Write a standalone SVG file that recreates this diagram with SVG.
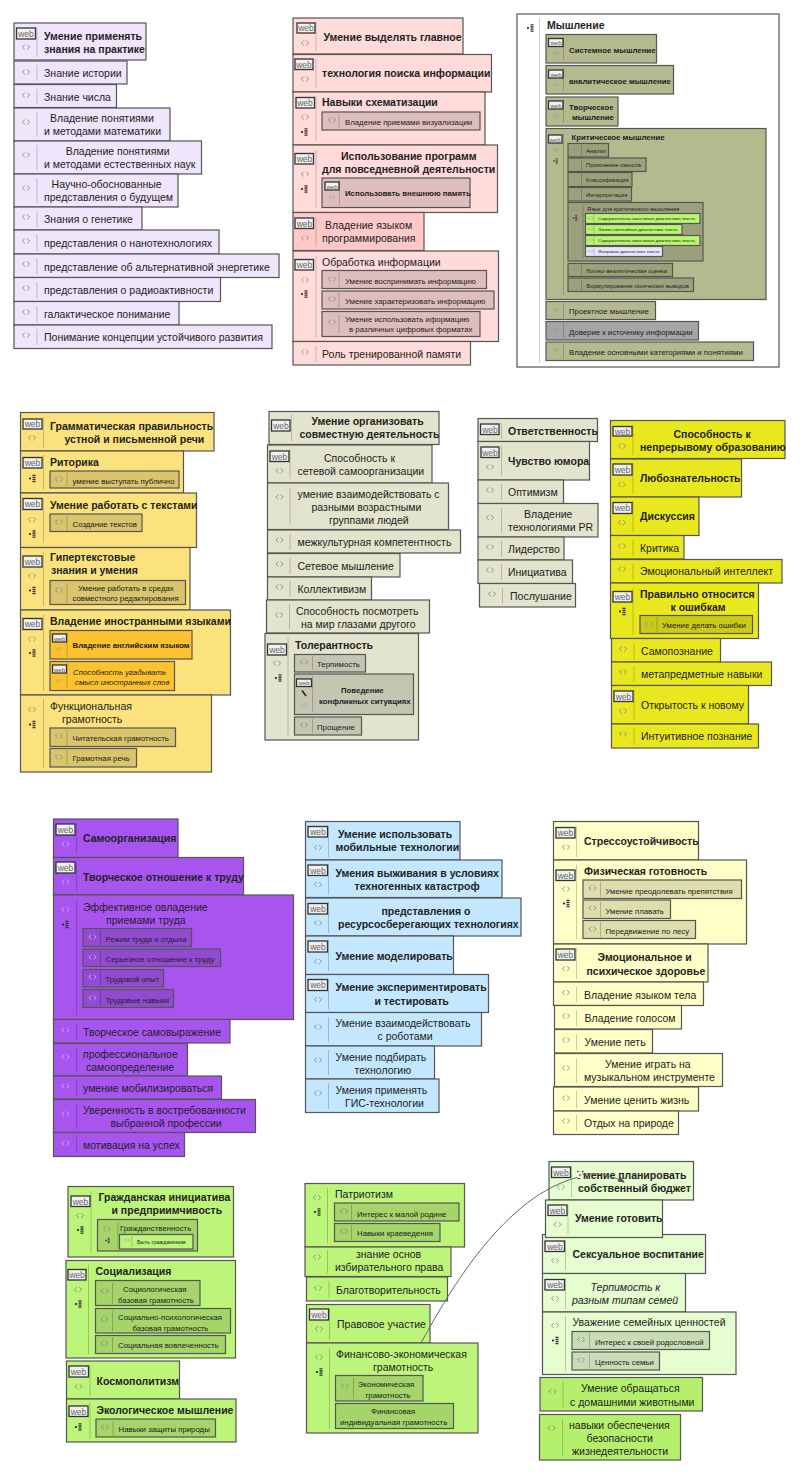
<svg xmlns="http://www.w3.org/2000/svg" width="800" height="1475" viewBox="0 0 800 1475">
<style>
text{font-family:"Liberation Sans",Arial,sans-serif;fill:#222}
rect{stroke:#555;stroke-width:1.2}
.t{font-size:10.5px}.b{font-size:10.5px;font-weight:700}
.m{font-size:7.8px}.mb{font-size:7.8px;font-weight:700}
.o{font-size:5.8px}.g{font-size:4.4px}.i{font-style:italic}.x{font-size:5.5px}
.w{font-size:8.5px;fill:#666;text-anchor:middle}
.ws{font-size:6px;fill:#555;text-anchor:middle}
.wb{fill:#f0f0f0;stroke:#333;stroke-width:1.3}
.s{stroke:#000;stroke-opacity:.2;fill:none}
.c{fill:#000;fill-opacity:.13}
use{stroke:#888}
.pu~use,.pu~g>use{stroke:#cfa6f8}
.lv{fill:#f0e6fb}.pk{fill:#ffdbd9}.pk2{fill:#ffc9c9}.ol{fill:#b5b98e}.gr{fill:#a5a5a5}.ye{fill:#fbe27d}
.or{fill:#fdc230}.be{fill:#e3e4cd}.y2{fill:#e9e81e}.pu{fill:#a855f0}.bl{fill:#c3e7ff}.ly{fill:#feffc6}
.gn{fill:#bdf47a}.lg{fill:#e6fdd0}.g2{fill:#b9f56e}.lb{fill:#e6e6ff}.wh{fill:#fff}.g3{fill:#b5f06c}
.ln{fill:none;stroke:#666;stroke-width:1}
</style>
<defs>
<path id="a" d="M-1.2-2.4L-3.6 0L-1.2 2.4M1.2-2.4L3.6 0L1.2 2.4" fill="none" stroke-width=".9"/>
<path id="e" d="M-.8-1.5L-2.2 0L-.8 1.5M.8-1.5L2.2 0L.8 1.5" fill="none" stroke-width=".6"/>
<g id="l"><circle cx="-3" cy="0" r="1.1" fill="#222" stroke="none"/><path d="M-.5-3.2h3M-.5-1h3M-.5 1.2h3M-.5 3.2h3" stroke="#333" stroke-width="1.3"/></g>
<g id="k"><circle cx="-2" cy="0" r=".8" fill="#222" stroke="none"/><path d="M-.3-2.2h2M-.3-.7h2M-.3.8h2M-.3 2.2h2" stroke="#333" stroke-width=".9"/></g>
<marker id="h" markerWidth="8" markerHeight="8" refX="6" refY="3" orient="auto"><path d="M0 0L7 3L0 6Z" fill="#555"/></marker>
</defs>

<g id="n1"><rect class="lv" x="14" y="23" width="132" height="37"/><rect class="wb" x="16.500" y="28" width="19" height="11"/><text class="w" x="26" y="36.500">web</text><use href="#a" x="26" y="47"/><path class="s" d="M37 27V57"/><text class="b" x="44" y="39.500">Умение применять</text><text class="b" x="44" y="52.500">знания на практике</text></g>
<g id="n2"><rect class="lv" x="14" y="61" width="113" height="23"/><use href="#a" x="26" y="72"/><path class="s" d="M37 65V81"/><text class="t" x="44" y="77">Знание истории</text></g>
<g id="n3"><rect class="lv" x="14" y="84.500" width="102.500" height="23"/><use href="#a" x="26" y="95"/><path class="s" d="M37 89V104"/><text class="t" x="44" y="100.500">Знание числа</text></g>
<g id="n4"><rect class="lv" x="14" y="108" width="156" height="33"/><use href="#a" x="26" y="122"/><path class="s" d="M37 112V137"/><text class="t" x="50" y="122">Владение понятиями</text><text class="t" x="44" y="135">и методами математики</text></g>
<g id="n5"><rect class="lv" x="14" y="141" width="187.500" height="33"/><use href="#a" x="26" y="155"/><path class="s" d="M37 145V170"/><text class="t" x="65.700" y="155">Владение понятиями</text><text class="t" x="44" y="168">и методами естественных наук</text></g>
<g id="n6"><rect class="lv" x="14" y="174" width="164" height="33"/><use href="#a" x="26" y="188"/><path class="s" d="M37 178V203"/><text class="t" x="51.600" y="188">Научно-обоснованные</text><text class="t" x="44" y="201">представления о будущем</text></g>
<g id="n7"><rect class="lv" x="14" y="207" width="128" height="23"/><use href="#a" x="26" y="217"/><path class="s" d="M37 211V227"/><text class="t" x="44" y="223">Знания о генетике</text></g>
<g id="n8"><rect class="lv" x="14" y="230" width="205" height="24"/><use href="#a" x="26" y="241"/><path class="s" d="M37 234V251"/><text class="t" x="44" y="247">представления о нанотехнологиях</text></g>
<g id="n9"><rect class="lv" x="14" y="254" width="265" height="23.500"/><use href="#a" x="26" y="264"/><path class="s" d="M37 258V274"/><text class="t" x="44" y="270.500">представление об альтернативной энергетике</text></g>
<g id="n10"><rect class="lv" x="14" y="277.500" width="206.500" height="24"/><use href="#a" x="26" y="288"/><path class="s" d="M37 282V298"/><text class="t" x="44" y="294">представления о радиоактивности</text></g>
<g id="n11"><rect class="lv" x="14" y="301.500" width="165" height="23.500"/><use href="#a" x="26" y="312"/><path class="s" d="M37 306V322"/><text class="t" x="44" y="317.500">галактическое понимание</text></g>
<g id="n12"><rect class="lv" x="14" y="325" width="258" height="23.500"/><use href="#a" x="26" y="335"/><path class="s" d="M37 329V345"/><text class="t" x="44" y="341">Понимание концепции устойчивого развития</text></g>

<g id="p1"><rect class="pk" x="293" y="18" width="170" height="36"/><rect class="wb" x="297" y="23" width="18" height="10"/><text class="w" x="306" y="31">web</text><use href="#a" x="305" y="43"/><path class="s" d="M316 22V51"/><text class="b" x="323.500" y="41">Умение выделять главное</text></g>
<g id="p2"><rect class="pk" x="293" y="54.500" width="198.500" height="37.500"/><rect class="wb" x="295" y="59" width="18" height="10.500"/><text class="w" x="304" y="67.500">web</text><use href="#a" x="305" y="79"/><path class="s" d="M316 59V88"/><text class="b" x="322" y="77">технология поиска информации</text></g>
<g id="p3"><rect class="pk" x="293" y="92" width="192" height="53"/><rect class="wb" x="296" y="97.500" width="18.500" height="10.500"/><text class="w" x="305" y="106">web</text><use href="#a" x="305" y="117"/><use href="#l" x="305" y="132"/><path class="s" d="M316 96V141"/><text class="b" x="322" y="106">Навыки схематизации</text>
<g id="p3a"><rect class="c" x="322" y="112" width="158" height="18"/><use href="#a" x="332" y="120"/><path class="s" d="M339 114V128"/><text class="m" x="345" y="124.500">Владение приемами визуализации</text></g></g>
<g id="p4"><rect class="pk" x="293" y="145" width="204.500" height="67.500"/><rect class="wb" x="295" y="153.500" width="18.500" height="10.500"/><text class="w" x="304.500" y="162">web</text><use href="#a" x="305" y="174"/><use href="#l" x="305" y="189"/><path class="s" d="M316 150V208"/><text class="b" x="341" y="160">Использование программ</text><text class="b" x="322" y="173">для повседневной деятельности</text>
<g id="p4a"><rect class="c" x="322" y="178" width="148" height="29.500"/><rect class="wb" x="325" y="182" width="14" height="8"/><text class="ws" x="332" y="188.500">web</text><use href="#e" x="332" y="197"/><path class="s" d="M339.500 180V205"/><text class="mb" x="345" y="196">Использовать внешнюю память</text></g></g>
<g id="p5"><rect class="pk2" x="293" y="212.500" width="131" height="38"/><rect class="wb" x="295" y="218" width="18.500" height="10.500"/><text class="w" x="304.500" y="226.500">web</text><use href="#a" x="305" y="238"/><path class="s" d="M316 217V247"/><text class="t" x="325" y="229">Владение языком</text><text class="t" x="322" y="242">программирования</text></g>
<g id="p6"><rect class="pk" x="293" y="251" width="205.500" height="90.500"/><rect class="wb" x="295" y="259.500" width="18.500" height="10.500"/><text class="w" x="304.500" y="268">web</text><use href="#a" x="305" y="280"/><use href="#l" x="305" y="294"/><path class="s" d="M316 256V338"/><text class="t" x="322" y="266">Обработка информации</text>
<g id="p6a"><rect class="c" x="322" y="270.500" width="164.500" height="18"/><use href="#a" x="332" y="279"/><path class="s" d="M339 272V287"/><text class="m" x="345" y="284">Умение воспринимать информацию</text></g>
<g id="p6b"><rect class="c" x="322" y="291" width="172" height="18"/><use href="#a" x="332" y="299"/><path class="s" d="M339 293V307"/><text class="m" x="345" y="304">Умение характеризовать информацию</text></g>
<g id="p6c"><rect class="c" x="322" y="311.500" width="158" height="25"/><use href="#a" x="332" y="322"/><path class="s" d="M339 314V334"/><text class="m" x="345" y="322">Умение использовать иформацию</text><text class="m" x="349" y="332">в различных цифровых форматах</text></g></g>
<g id="p7"><rect class="pk" x="293" y="341.500" width="177.500" height="23.500"/><use href="#a" x="305" y="352"/><path class="s" d="M316 346V362"/><text class="t" x="322" y="358">Роль тренированной памяти</text></g>

<g id="m0"><rect class="wh" x="517" y="14" width="262" height="353"/><use href="#l" x="531" y="28"/><path class="s" d="M539.500 18V363"/><text class="b" x="547" y="29">Мышление</text>
<g id="m1"><rect class="ol" x="546" y="34.500" width="110.500" height="28.500"/><rect class="wb" x="548.500" y="38.500" width="14.500" height="8"/><text class="ws" x="556" y="45">web</text><use href="#e" x="556" y="53"/><path class="s" d="M563.500 37V60"/><text class="mb" x="569" y="52.500">Системное мышление</text></g>
<g id="m2"><rect class="ol" x="546" y="65.500" width="127.500" height="28.500"/><rect class="wb" x="548.500" y="70" width="14.500" height="8"/><text class="ws" x="556" y="76.500">web</text><use href="#e" x="556" y="84.500"/><path class="s" d="M563.500 68V91"/><text class="mb" x="569" y="84">аналитическое мышление</text></g>
<g id="m3"><rect class="ol" x="546" y="97" width="72" height="29"/><rect class="wb" x="548.500" y="101" width="14.500" height="8"/><text class="ws" x="556" y="107.500">web</text><use href="#e" x="556" y="116"/><path class="s" d="M563.500 99V123"/><text class="mb" x="569" y="110">Творческое</text><text class="mb" x="572" y="120">мышление</text></g>
<g id="m4"><rect class="ol" x="546" y="128.500" width="220" height="171"/><rect class="wb" x="548.500" y="135" width="13.500" height="8"/><text class="ws" x="555" y="141.500">web</text><use href="#e" x="556" y="150"/><use href="#k" x="556" y="161"/><path class="s" d="M563.500 133V295"/><text class="mb" x="571.500" y="139.500">Критическое мышление</text>
<g id="m4a"><rect class="c" x="568" y="143.500" width="40.500" height="13.500"/><use href="#e" x="575.500" y="149"/><path class="s" d="M581.500 145V155"/><text class="o" x="586" y="152.500">Анализ</text></g>
<g id="m4b"><rect class="c" x="568" y="158" width="78" height="13.500"/><use href="#e" x="575.500" y="164"/><path class="s" d="M581.500 160V170"/><text class="o" x="586" y="167">Прояснение смысла</text></g>
<g id="m4c"><rect class="c" x="568" y="172.500" width="64" height="14"/><use href="#e" x="575.500" y="178"/><path class="s" d="M581.500 174V185"/><text class="o" x="586" y="182">Классификация</text></g>
<g id="m4d"><rect class="c" x="568" y="187.500" width="63.500" height="13.500"/><use href="#e" x="575.500" y="193"/><path class="s" d="M581.500 189V200"/><text class="o" x="586" y="196.500">Интерпретация</text></g>
<g id="m4e"><rect class="c" x="568" y="202.500" width="135" height="58.500"/><use href="#e" x="575.500" y="210"/><use href="#k" x="575.500" y="218"/><path class="s" d="M583 205V258"/><text class="o" x="587" y="211">Язык для критического мышления</text>
<g id="m4e1"><rect class="g2" x="585.500" y="213.500" width="114.500" height="10"/><use href="#e" x="590.500" y="218"/><path class="s" d="M594 215V222"/><text class="g" x="598" y="220">Содержательно-смысловая диагностика текста</text></g>
<g id="m4e2"><rect class="g2" x="585.500" y="224.500" width="96.500" height="10"/><use href="#e" x="590.500" y="229"/><path class="s" d="M594 226V233"/><text class="g" x="598" y="231">Логико-понятийная диагностика текста</text></g>
<g id="m4e3"><rect class="g2" x="585.500" y="235.500" width="114.500" height="10"/><use href="#e" x="590.500" y="240"/><path class="s" d="M594 237V244"/><text class="g" x="598" y="242">Содержательно-смысловая диагностика текста</text></g>
<g id="m4e4"><rect class="lb" x="585.500" y="246.500" width="77" height="10"/><use href="#e" x="590.500" y="251"/><path class="s" d="M594 248V255"/><text class="g" x="598" y="253">Жанровая диагностика текста</text></g></g>
<g id="m4f"><rect class="c" x="568" y="263.500" width="104.500" height="13"/><use href="#e" x="575.500" y="269"/><path class="s" d="M581.500 265V275"/><text class="o" x="586" y="272.500">Логико-аналитическая оценка</text></g>
<g id="m4g"><rect class="c" x="568" y="278" width="125.500" height="13.500"/><use href="#e" x="575.500" y="284"/><path class="s" d="M581.500 280V290"/><text class="o" x="586" y="287.500">Формулирование логических выводов</text></g></g>
<g id="m5"><rect class="ol" x="546" y="301.500" width="109.500" height="18"/><use href="#e" x="556" y="310"/><path class="s" d="M563.500 303V318"/><text class="m" x="569" y="314">Проектное мышление</text></g>
<g id="m6"><rect class="gr" x="546" y="321.500" width="152.500" height="18.500"/><use href="#e" x="556" y="330"/><path class="s" d="M563.500 323V338"/><text class="m" x="569" y="334.500">Доверие к источнику информации</text></g>
<g id="m7"><rect class="ol" x="546" y="342" width="207.500" height="18.500"/><use href="#e" x="556" y="350"/><path class="s" d="M563.500 344V359"/><text class="m" x="569" y="355">Владение основными категориями и понятиями</text></g></g>

<g id="y1"><rect class="ye" x="20.500" y="412.500" width="193.500" height="38.500"/><rect class="wb" x="23" y="419" width="19" height="10"/><text class="w" x="32.500" y="427">web</text><use href="#a" x="32" y="438"/><path class="s" d="M43.500 417V448"/><text class="b" x="50" y="430">Грамматическая правильность</text><text class="b" x="64.500" y="443">устной и письменной речи</text></g>
<g id="y2"><rect class="ye" x="20.500" y="451" width="163" height="42"/><rect class="wb" x="23" y="457.500" width="19" height="10.500"/><text class="w" x="32.500" y="466">web</text><use href="#l" x="33" y="478.500"/><path class="s" d="M43.500 455V490"/><text class="b" x="50" y="465.500">Риторика</text>
<g id="y2a"><rect class="c" x="50" y="471" width="129" height="17"/><use href="#a" x="59" y="479"/><path class="s" d="M67 473V486"/><text class="m" x="72.500" y="484">умение выступать публично</text></g></g>
<g id="y3"><rect class="ye" x="20.500" y="493" width="176" height="54.500"/><rect class="wb" x="23" y="498.500" width="19" height="11"/><text class="w" x="32.500" y="507">web</text><use href="#a" x="32" y="519.500"/><use href="#l" x="33" y="534"/><path class="s" d="M43.500 498V543"/><text class="b" x="50" y="509">Умение работать с текстами</text>
<g id="y3a"><rect class="c" x="50" y="514" width="92" height="17.500"/><use href="#a" x="59" y="522"/><path class="s" d="M67 516V530"/><text class="m" x="72.500" y="526.500">Создание текстов</text></g></g>
<g id="y4"><rect class="ye" x="20.500" y="547.500" width="169.500" height="62.500"/><rect class="wb" x="23" y="556" width="19" height="11"/><text class="w" x="32.500" y="564.500">web</text><use href="#a" x="32" y="576"/><use href="#l" x="33" y="590.500"/><path class="s" d="M43.500 552V606"/><text class="b" x="50" y="561">Гипертекстовые</text><text class="b" x="51" y="574">знания и умения</text>
<g id="y4a"><rect class="c" x="50" y="580.500" width="135.500" height="24"/><use href="#a" x="59" y="590"/><path class="s" d="M67 583V603"/><text class="m" x="78" y="591">Умение работать в средах</text><text class="m" x="72.500" y="601">совместного редактирования</text></g></g>
<g id="y5"><rect class="ye" x="20.500" y="610" width="210" height="85"/><rect class="wb" x="23" y="618.500" width="19" height="11"/><text class="w" x="32.500" y="627">web</text><use href="#a" x="32" y="639"/><use href="#l" x="33" y="653"/><path class="s" d="M43.500 615V691"/><text class="b" x="50" y="624.500">Владение иностранными языками</text>
<g id="y5a"><rect class="or" x="50" y="630.500" width="142" height="28.500"/><rect class="wb" x="52.500" y="634" width="14" height="8"/><text class="ws" x="59.500" y="640.500">web</text><use href="#e" x="59" y="649"/><path class="s" d="M67 632V657"/><text class="mb" x="72.500" y="648">Владение английским языком</text></g>
<g id="y5b"><rect class="or" x="50" y="661.500" width="124.500" height="29"/><rect class="wb" x="52.500" y="665" width="14" height="8"/><text class="ws" x="59.500" y="671.500">web</text><use href="#e" x="59" y="680.500"/><path class="s" d="M67 663V688"/><text class="m i" x="73" y="674.500">Способность угадывать</text><text class="m i" x="75" y="685">смысл иностранных слов</text></g></g>
<g id="y6"><rect class="ye" x="20.500" y="695" width="191" height="77"/><use href="#a" x="32" y="709.500"/><use href="#l" x="33" y="724.500"/><path class="s" d="M43.500 699V768"/><text class="t" x="50" y="710">Функциональная</text><text class="t" x="62" y="723">грамотность</text>
<g id="y6a"><rect class="c" x="50" y="728" width="125.500" height="18.500"/><use href="#a" x="59" y="736"/><path class="s" d="M67 730V745"/><text class="m" x="72.500" y="741">Читательская грамотность</text></g>
<g id="y6b"><rect class="c" x="50" y="748.500" width="86.500" height="18.500"/><use href="#a" x="59" y="757"/><path class="s" d="M67 750V765"/><text class="m" x="72.500" y="761">Грамотная речь</text></g></g>

<g id="b1"><rect class="be" x="269" y="411.500" width="170" height="33"/><rect class="wb" x="271.500" y="420" width="18.500" height="11"/><text class="w" x="281" y="428.500">web</text><path class="s" d="M291.500 415V441"/><text class="b" x="311.500" y="425">Умение организовать</text><text class="b" x="299.500" y="438">совместную деятельность</text></g>
<g id="b2"><rect class="be" x="267.500" y="445" width="164.500" height="38"/><rect class="wb" x="270" y="451" width="19" height="10.500"/><text class="w" x="279.500" y="459.500">web</text><use href="#a" x="279.500" y="470.500"/><path class="s" d="M290 449V479"/><text class="t" x="324" y="462">Способность к</text><text class="t" x="297.500" y="475">сетевой самоорганизации</text></g>
<g id="b3"><rect class="be" x="267.500" y="483" width="181" height="46.500"/><use href="#a" x="279.500" y="497"/><path class="s" d="M290 488V525"/><text class="t" x="297.500" y="498">умение взаимодействовать с</text><text class="t" x="311.500" y="511">разными возрастными</text><text class="t" x="329" y="524">группами людей</text></g>
<g id="b4"><rect class="be" x="267.500" y="530" width="193" height="23"/><use href="#a" x="279.500" y="540"/><path class="s" d="M290 534V550"/><text class="t" x="297.500" y="546">межкультурная компетентность</text></g>
<g id="b5"><rect class="be" x="267.500" y="553.500" width="132.500" height="23.500"/><use href="#a" x="279.500" y="564"/><path class="s" d="M290 558V574"/><text class="t" x="297.500" y="569.500">Сетевое мышление</text></g>
<g id="b6"><rect class="be" x="267.500" y="577" width="104" height="23"/><use href="#a" x="279.500" y="587"/><path class="s" d="M290 581V597"/><text class="t" x="297.500" y="593">Коллективизм</text></g>
<g id="b7"><rect class="be" x="266.500" y="600" width="163" height="33"/><use href="#a" x="279" y="615"/><path class="s" d="M289.500 604V629"/><text class="t" x="296" y="615">Способность посмотреть</text><text class="t" x="301" y="628">на мир глазами другого</text></g>
<g id="b8"><rect class="be" x="265" y="633.500" width="153.500" height="106.500"/><rect class="wb" x="267.500" y="644" width="19" height="11"/><text class="w" x="277" y="652.500">web</text><use href="#a" x="277" y="663"/><use href="#l" x="279" y="678"/><path class="s" d="M288 638V736"/><text class="b" x="295" y="648.500">Толерантность</text>
<g id="b8a"><rect class="c" x="294.500" y="654.500" width="71" height="17.500"/><use href="#a" x="304" y="662"/><path class="s" d="M312.500 656V670"/><text class="m" x="317" y="667">Терпимость</text></g>
<g id="b8b"><rect class="c" x="294.500" y="674" width="119" height="40.500"/><rect class="wb" x="296.500" y="679" width="15" height="7.500"/><text class="ws" x="304" y="685">web</text><path d="M302 690.500L306 696" stroke="#222" stroke-width="1.500"/><use href="#e" x="304" y="705"/><path class="s" d="M312.500 676V712"/><text class="mb" x="341" y="693">Поведение</text><text class="mb" x="319" y="703.500">конфликных ситуациях</text></g>
<g id="b8c"><rect class="c" x="294.500" y="717" width="67" height="18"/><use href="#a" x="304" y="725"/><path class="s" d="M312.500 719V733"/><text class="m" x="317" y="730">Прощение</text></g></g>

<g id="r1"><rect class="be" x="478" y="418.500" width="119.500" height="23"/><rect class="wb" x="480.500" y="424" width="18.500" height="10.500"/><text class="w" x="490" y="432.500">web</text><path class="s" d="M501.500 423V439"/><text class="b" x="508" y="434.500">Ответственность</text></g>
<g id="r2"><rect class="be" x="478" y="441.500" width="111.500" height="38.500"/><rect class="wb" x="481" y="447" width="18" height="10.500"/><text class="w" x="490" y="455.500">web</text><use href="#a" x="490" y="467"/><path class="s" d="M501.500 446V476"/><text class="b" x="508" y="465">Чувство юмора</text></g>
<g id="r3"><rect class="be" x="478" y="480" width="85.500" height="23.500"/><use href="#a" x="490" y="490"/><path class="s" d="M501.500 484V500"/><text class="t" x="508" y="496">Оптимизм</text></g>
<g id="r4"><rect class="be" x="478" y="503.500" width="120" height="33.500"/><use href="#a" x="490" y="517.500"/><path class="s" d="M501.500 508V533"/><text class="t" x="524" y="518">Владение</text><text class="t" x="508" y="531">технологиями PR</text></g>
<g id="r5"><rect class="be" x="478" y="537" width="86" height="23"/><use href="#a" x="490" y="547"/><path class="s" d="M501.500 541V557"/><text class="t" x="508" y="553">Лидерство</text></g>
<g id="r6"><rect class="be" x="478" y="560" width="94.500" height="23.500"/><use href="#a" x="490" y="570"/><path class="s" d="M501.500 564V580"/><text class="t" x="508" y="576">Инициатива</text></g>
<g id="r7"><rect class="be" x="479.500" y="583.500" width="96" height="23.500"/><use href="#a" x="492" y="594"/><path class="s" d="M502.500 588V604"/><text class="t" x="510" y="600">Послушание</text></g>

<g id="s1"><rect class="y2" x="610.500" y="420.500" width="174.500" height="38"/><rect class="wb" x="613" y="426.500" width="19" height="9.500"/><text class="w" x="622.500" y="434.500">web</text><use href="#a" x="622" y="446"/><path class="s" d="M633 425V455"/><text class="b" x="673.500" y="437.500">Способность к</text><text class="b" x="640" y="451">непрерывому образованию</text></g>
<g id="s2"><rect class="y2" x="610.500" y="459" width="131" height="38"/><rect class="wb" x="613" y="464" width="19" height="11"/><text class="w" x="622.500" y="472.500">web</text><use href="#a" x="622" y="484.500"/><path class="s" d="M633 463V494"/><text class="b" x="640" y="482">Любознательность</text></g>
<g id="s3"><rect class="y2" x="610.500" y="497" width="88.500" height="38.500"/><rect class="wb" x="613" y="502.500" width="19" height="11"/><text class="w" x="622.500" y="511">web</text><use href="#a" x="622" y="522.500"/><path class="s" d="M633 501V532"/><text class="b" x="640" y="520">Дискуссия</text></g>
<g id="s4"><rect class="y2" x="610.500" y="535.500" width="73.500" height="23.500"/><use href="#a" x="622" y="546"/><path class="s" d="M633 540V556"/><text class="t" x="640" y="552">Критика</text></g>
<g id="s5"><rect class="y2" x="610.500" y="559.500" width="171.500" height="23.500"/><use href="#a" x="622" y="569"/><path class="s" d="M633 564V580"/><text class="t" x="640" y="575">Эмоциональный интеллект</text></g>
<g id="s6"><rect class="y2" x="610.500" y="583" width="148" height="55.500"/><rect class="wb" x="613" y="591.500" width="19" height="10.500"/><text class="w" x="622.500" y="600">web</text><use href="#l" x="623" y="611.500"/><path class="s" d="M633 588V635"/><text class="b" x="640" y="597.500">Правильно относится</text><text class="b" x="670.500" y="611">к ошибкам</text>
<g id="s6a"><rect class="c" x="640" y="615.500" width="112.500" height="18"/><use href="#a" x="649" y="624"/><path class="s" d="M657 617V632"/><text class="m" x="662" y="628">Умение делать ошибки</text></g></g>
<g id="s7"><rect class="y2" x="611.500" y="638.500" width="109" height="23.500"/><use href="#a" x="623" y="649"/><path class="s" d="M634 643V659"/><text class="t" x="641" y="655">Самопознание</text></g>
<g id="s8"><rect class="y2" x="611.500" y="662" width="160" height="23.500"/><use href="#a" x="623" y="672"/><path class="s" d="M634 666V682"/><text class="t" x="641" y="678">метапредметные навыки</text></g>
<g id="s9"><rect class="y2" x="611.500" y="685.500" width="137" height="38.500"/><rect class="wb" x="614" y="691" width="19" height="10.500"/><text class="w" x="623.500" y="699.500">web</text><use href="#a" x="623" y="711"/><path class="s" d="M634 690V720"/><text class="t" x="641" y="709">Открытость к новому</text></g>
<g id="s10"><rect class="y2" x="611.500" y="724" width="147" height="24"/><use href="#a" x="623" y="734"/><path class="s" d="M634 728V745"/><text class="t" x="641" y="740">Интуитивное познание</text></g>

<g id="v1"><rect class="pu" x="53.500" y="819" width="124.500" height="38.500"/><rect class="wb" x="56" y="824" width="19" height="11"/><text class="w" x="65.500" y="832.500">web</text><use href="#a" x="65.500" y="844"/><path class="s" d="M76.500 823V854"/><text class="b" x="83" y="842">Самоорганизация</text></g>
<g id="v2"><rect class="pu" x="53.500" y="857.500" width="190" height="37.500"/><rect class="wb" x="56" y="862" width="19" height="11"/><text class="w" x="65.500" y="870.500">web</text><use href="#a" x="65.500" y="882"/><path class="s" d="M76.500 861V892"/><text class="b" x="83" y="880.500">Творческое отношение к труду</text></g>
<g id="v3"><rect class="pu" x="53.500" y="895" width="240" height="124.500"/><use href="#a" x="65.500" y="909.500"/><use href="#l" x="66" y="924.500"/><path class="s" d="M76.500 900V1015"/><text class="t" x="83" y="910.500">Эффективное овладение</text><text class="t" x="106" y="923.500">приемами труда</text>
<g id="v3a"><rect class="c" x="83" y="928.500" width="108.500" height="18"/><use href="#a" x="92.500" y="937"/><path class="s" d="M100.500 930V945"/><text class="m" x="105.500" y="941.500">Режим труда и отдыха</text></g>
<g id="v3b"><rect class="c" x="83" y="949" width="137.500" height="17.500"/><use href="#a" x="92.500" y="957"/><path class="s" d="M100.500 951V965"/><text class="m" x="105.500" y="962">Серьезное отношение к труду</text></g>
<g id="v3c"><rect class="c" x="83" y="969.500" width="80.500" height="17.500"/><use href="#a" x="92.500" y="977"/><path class="s" d="M100.500 971V985"/><text class="m" x="105.500" y="982">Трудовой опыт</text></g>
<g id="v3d"><rect class="c" x="83" y="989.500" width="90.500" height="18"/><use href="#a" x="92.500" y="998"/><path class="s" d="M100.500 991V1006"/><text class="m" x="105.500" y="1002.500">Трудовые навыки</text></g></g>
<g id="v4"><rect class="pu" x="53.500" y="1019.500" width="176.500" height="23.500"/><use href="#a" x="65.500" y="1030"/><path class="s" d="M76.500 1024V1040"/><text class="t" x="83" y="1036">Творческое самовыражение</text></g>
<g id="v5"><rect class="pu" x="53.500" y="1043.500" width="134" height="32.500"/><use href="#a" x="65.500" y="1057"/><path class="s" d="M76.500 1048V1072"/><text class="t" x="83" y="1058">профессиональное</text><text class="t" x="86" y="1071">самоопределение</text></g>
<g id="v6"><rect class="pu" x="53.500" y="1076" width="168" height="23"/><use href="#a" x="65.500" y="1086"/><path class="s" d="M76.500 1080V1096"/><text class="t" x="83" y="1092">умение мобилизироваться</text></g>
<g id="v7"><rect class="pu" x="53.500" y="1099.500" width="202" height="33"/><use href="#a" x="65.500" y="1114"/><path class="s" d="M76.500 1104V1129"/><text class="t" x="83" y="1114">Уверенность в востребованности</text><text class="t" x="110.500" y="1127">выбранной профессии</text></g>
<g id="v8"><rect class="pu" x="53.500" y="1132.500" width="131" height="24"/><use href="#a" x="65.500" y="1143"/><path class="s" d="M76.500 1137V1153"/><text class="t" x="83" y="1149">мотивация на успех</text></g>

<g id="u1"><rect class="bl" x="305.500" y="821.500" width="154.500" height="38.500"/><rect class="wb" x="308" y="826.500" width="19.500" height="10.500"/><text class="w" x="318" y="835">web</text><use href="#a" x="318" y="847.500"/><path class="s" d="M328.500 826V857"/><text class="b" x="338" y="838">Умение использовать</text><text class="b" x="335.500" y="851">мобильные технологии</text></g>
<g id="u2"><rect class="bl" x="305.500" y="860" width="196.500" height="37.500"/><rect class="wb" x="308" y="865" width="19.500" height="10.500"/><text class="w" x="318" y="873.500">web</text><use href="#a" x="318" y="884.500"/><path class="s" d="M328.500 864V895"/><text class="b" x="335.500" y="876.500">Умения выживания в условиях</text><text class="b" x="354.500" y="890">техногенных катастроф</text></g>
<g id="u3"><rect class="bl" x="305.500" y="898" width="215.500" height="38"/><rect class="wb" x="308" y="903.500" width="19.500" height="10.500"/><text class="w" x="318" y="912">web</text><use href="#a" x="318" y="923"/><path class="s" d="M328.500 902V933"/><text class="b" x="381.500" y="915">представления о</text><text class="b" x="338" y="928">ресурсосберегающих технологиях</text></g>
<g id="u4"><rect class="bl" x="305.500" y="936" width="148" height="38.500"/><rect class="wb" x="308" y="941" width="19.500" height="11"/><text class="w" x="318" y="949.500">web</text><use href="#a" x="318" y="961.500"/><path class="s" d="M328.500 940V971"/><text class="b" x="335.500" y="959.500">Умение моделировать</text></g>
<g id="u5"><rect class="bl" x="305.500" y="974.500" width="183" height="38"/><rect class="wb" x="308" y="979.500" width="19.500" height="11"/><text class="w" x="318" y="988">web</text><use href="#a" x="318" y="999.500"/><path class="s" d="M328.500 979V1009"/><text class="b" x="335.500" y="991">Умение экспериментировать</text><text class="b" x="374.500" y="1005">и тестировать</text></g>
<g id="u6"><rect class="bl" x="305.500" y="1012.500" width="176" height="33.500"/><use href="#a" x="318" y="1027"/><path class="s" d="M328.500 1017V1042"/><text class="t" x="335.500" y="1027">Умение взаимодействовать</text><text class="t" x="377.500" y="1040">с роботами</text></g>
<g id="u7"><rect class="bl" x="305.500" y="1046" width="129" height="33"/><use href="#a" x="318" y="1060"/><path class="s" d="M328.500 1050V1075"/><text class="t" x="335.500" y="1061">Умение подбирать</text><text class="t" x="354.500" y="1074">технологию</text></g>
<g id="u8"><rect class="bl" x="305.500" y="1079" width="133.500" height="33.500"/><use href="#a" x="318" y="1093"/><path class="s" d="M328.500 1083V1109"/><text class="t" x="335.500" y="1094">Умения применять</text><text class="t" x="345" y="1107">ГИС-технологии</text></g>

<g id="w1"><rect class="ly" x="553.500" y="821.500" width="145" height="38.500"/><rect class="wb" x="556" y="827.500" width="19" height="10.500"/><text class="w" x="565.500" y="836">web</text><use href="#a" x="566" y="847"/><path class="s" d="M576.500 826V857"/><text class="b" x="584" y="845">Стрессоустойчивость</text></g>
<g id="w2"><rect class="ly" x="553.500" y="860" width="193" height="84"/><rect class="wb" x="556" y="870" width="19" height="10.500"/><text class="w" x="565.500" y="878.500">web</text><use href="#a" x="566" y="889"/><use href="#l" x="567" y="903.500"/><path class="s" d="M576.500 865V939"/><text class="b" x="584" y="874.500">Физическая готовность</text>
<g id="w2a"><rect class="c" x="583" y="880" width="158.500" height="18.500"/><use href="#a" x="592.500" y="888"/><path class="s" d="M600.500 882V897"/><text class="m" x="605.500" y="893.500">Умение преодолевать препятствия</text></g>
<g id="w2b"><rect class="c" x="583" y="900" width="87.500" height="18.500"/><use href="#a" x="592.500" y="908"/><path class="s" d="M600.500 902V917"/><text class="m" x="605.500" y="913.500">Умение плавать</text></g>
<g id="w2c"><rect class="c" x="583" y="920.500" width="112.500" height="18"/><use href="#a" x="592.500" y="929"/><path class="s" d="M600.500 922V937"/><text class="m" x="605.500" y="934">Передвижение по лесу</text></g></g>
<g id="w3"><rect class="ly" x="553.500" y="944" width="154.500" height="38"/><rect class="wb" x="556" y="949" width="19" height="11"/><text class="w" x="565.500" y="957.500">web</text><use href="#a" x="566" y="968.500"/><path class="s" d="M576.500 948V979"/><text class="b" x="597.500" y="961">Эмоциональное и</text><text class="b" x="586.500" y="974.500">психическое здоровье</text></g>
<g id="w4"><rect class="ly" x="553.500" y="982" width="150" height="23.500"/><use href="#a" x="566" y="992.500"/><path class="s" d="M576.500 987V1002"/><text class="t" x="584" y="998.500">Владение языком тела</text></g>
<g id="w5"><rect class="ly" x="554.500" y="1005.500" width="127" height="23.500"/><use href="#a" x="566" y="1016"/><path class="s" d="M576.500 1010V1026"/><text class="t" x="584.500" y="1022">Владение голосом</text></g>
<g id="w6"><rect class="ly" x="554.500" y="1029.500" width="98" height="23.500"/><use href="#a" x="566" y="1040"/><path class="s" d="M576.500 1034V1050"/><text class="t" x="584.500" y="1046">Умение петь</text></g>
<g id="w7"><rect class="ly" x="554.500" y="1053.500" width="168" height="33"/><use href="#a" x="566" y="1068"/><path class="s" d="M576.500 1058V1083"/><text class="t" x="605" y="1068">Умение играть на</text><text class="t" x="584" y="1081">музыкальном инструменте</text></g>
<g id="w8"><rect class="ly" x="553.500" y="1087" width="145" height="24"/><use href="#a" x="566" y="1098"/><path class="s" d="M576.500 1091V1108"/><text class="t" x="584" y="1104">Умение ценить жизнь</text></g>
<g id="w9"><rect class="ly" x="553.500" y="1111" width="125" height="23.500"/><use href="#a" x="566" y="1121"/><path class="s" d="M576.500 1115V1131"/><text class="t" x="584" y="1127">Отдых на природе</text></g>

<g id="q1"><rect class="gn" x="68" y="1186.500" width="165.500" height="70.500"/><rect class="wb" x="71" y="1196" width="19" height="10.500"/><text class="w" x="80.500" y="1204.500">web</text><use href="#a" x="80" y="1215.500"/><use href="#l" x="81" y="1230"/><path class="s" d="M91 1191V1253"/><text class="b" x="98.500" y="1201">Гражданская инициатива</text><text class="b" x="111.500" y="1214">и предприимчивость</text>
<g id="q1a"><rect class="c" x="97.500" y="1219.500" width="100" height="31.500"/><use href="#a" x="107" y="1229"/><use href="#k" x="108" y="1240.500"/><path class="s" d="M118 1222V1249"/><text class="m" x="120" y="1231">Гражданственность</text>
<g id="q1b"><rect class="gn" x="119.500" y="1234.500" width="73.500" height="14.500"/><use href="#e" x="127" y="1240"/><path class="s" d="M132 1236V1247"/><text class="x" x="137" y="1244">Быть гражданином</text></g></g></g>
<g id="q2"><rect class="gn" x="66" y="1260.500" width="169.500" height="97.500"/><rect class="wb" x="68" y="1269.500" width="18" height="10.500"/><text class="w" x="77" y="1278">web</text><use href="#a" x="78" y="1289.500"/><use href="#l" x="79" y="1304"/><path class="s" d="M88.500 1265V1354"/><text class="b" x="95.500" y="1275">Социализация</text>
<g id="q2a"><rect class="c" x="95.500" y="1280.500" width="104.500" height="25"/><use href="#a" x="104.500" y="1291"/><path class="s" d="M112.500 1283V1304"/><text class="m" x="123" y="1292">Социологическая</text><text class="m" x="118" y="1302.500">базовая грамотность</text></g>
<g id="q2b"><rect class="c" x="95.500" y="1308.500" width="135" height="24.500"/><use href="#a" x="104.500" y="1319"/><path class="s" d="M112.500 1311V1331"/><text class="m" x="118" y="1320">Социально-психологическая</text><text class="m" x="132.500" y="1330.500">базовая грамотность</text></g>
<g id="q2c"><rect class="c" x="95.500" y="1335.500" width="130" height="18"/><use href="#a" x="104.500" y="1343"/><path class="s" d="M112.500 1337V1352"/><text class="m" x="118" y="1348">Социальная вовлеченность</text></g></g>
<g id="q3"><rect class="gn" x="66.500" y="1361" width="113" height="38"/><rect class="wb" x="69" y="1366" width="19.500" height="11"/><text class="w" x="78.500" y="1374.500">web</text><use href="#a" x="78.500" y="1386.500"/><path class="s" d="M90 1365V1396"/><text class="b" x="96.500" y="1385">Космополитизм</text></g>
<g id="q4"><rect class="gn" x="66.500" y="1399" width="169.500" height="43"/><rect class="wb" x="69" y="1406" width="19" height="10.500"/><text class="w" x="78.500" y="1414.500">web</text><use href="#l" x="79" y="1427"/><path class="s" d="M90 1403V1439"/><text class="b" x="96.500" y="1414">Экологическое мышление</text>
<g id="q4a"><rect class="c" x="96" y="1419" width="119.500" height="18"/><use href="#a" x="105" y="1427"/><path class="s" d="M113 1421V1436"/><text class="m" x="118.500" y="1432">Навыки защиты природы</text></g></g>

<g id="z1"><rect class="gn" x="305" y="1183.500" width="159.500" height="63.500"/><use href="#a" x="317" y="1197.500"/><use href="#l" x="318" y="1212"/><path class="s" d="M327.500 1188V1243"/><text class="t" x="335" y="1198">Патриотизм</text>
<g id="z1a"><rect class="c" x="334.500" y="1203" width="124.500" height="18"/><use href="#a" x="344" y="1211"/><path class="s" d="M351.500 1205V1220"/><text class="m" x="357" y="1216.500">Интерес к малой родине</text></g>
<g id="z1b"><rect class="c" x="334.500" y="1223.500" width="105.500" height="18"/><use href="#a" x="344" y="1231"/><path class="s" d="M351.500 1225V1240"/><text class="m" x="357" y="1236">Навыки краеведения</text></g></g>
<g id="z2"><rect class="gn" x="305" y="1247" width="146" height="29.500"/><use href="#a" x="317" y="1257"/><path class="s" d="M327.500 1250V1273"/><text class="t" x="356" y="1258">знание основ</text><text class="t" x="335" y="1271">избирательного права</text></g>
<g id="z3"><rect class="gn" x="306.500" y="1277" width="141" height="24"/><use href="#a" x="318" y="1288"/><path class="s" d="M329 1281V1298"/><text class="t" x="336" y="1294">Благотворительность</text></g>
<g id="z4"><rect class="gn" x="306.500" y="1304.500" width="123.500" height="38.500"/><rect class="wb" x="309.500" y="1309" width="19" height="11"/><text class="w" x="319" y="1317.500">web</text><use href="#a" x="319" y="1329"/><path class="s" d="M329.500 1308V1340"/><text class="t" x="337" y="1328">Правовое участие</text></g>
<g id="z5"><rect class="gn" x="306.500" y="1343" width="171.500" height="90"/><use href="#a" x="319" y="1357"/><use href="#l" x="320" y="1372"/><path class="s" d="M329.500 1348V1429"/><text class="t" x="336" y="1358">Финансово-экономическая</text><text class="t" x="373" y="1371">грамотность</text>
<g id="z5a"><rect class="c" x="335.500" y="1375.500" width="87.500" height="25.500"/><use href="#a" x="345" y="1386"/><path class="s" d="M353.500 1378V1399"/><text class="m" x="358" y="1387">Экономическая</text><text class="m" x="365.500" y="1397.500">грамотность</text></g>
<g id="z5b"><rect class="c" x="335.500" y="1403.500" width="118" height="25"/><text class="m" x="371" y="1414">Финансовая</text><text class="m" x="340" y="1425">индивидуальная грамотность</text></g></g>

<g id="f3"><rect class="lg" x="542.500" y="1234.500" width="163" height="39"/><rect class="wb" x="545" y="1241" width="19.500" height="10.500"/><text class="w" x="555" y="1249.500">web</text><use href="#a" x="555" y="1260.500"/><path class="s" d="M565.500 1240V1270"/><text class="b" x="572.500" y="1258">Сексуальное воспитание</text></g>
<g id="f1"><rect class="lg" x="549" y="1161.500" width="144.500" height="38.500"/><rect class="wb" x="551.500" y="1167" width="19" height="10.500"/><text class="w" x="561" y="1175.500">web</text><use href="#a" x="561" y="1187"/><path class="s" d="M571.500 1166V1197"/><text class="b" x="577" y="1178.500">Умение планировать</text><text class="b" x="578" y="1192">собственный бюджет</text></g>
<g id="f2"><rect class="lg" x="545.500" y="1200" width="117" height="37.500"/><rect class="wb" x="548" y="1205" width="19" height="10.500"/><text class="w" x="557.500" y="1213.500">web</text><use href="#a" x="557.500" y="1224.500"/><path class="s" d="M568 1204V1234"/><text class="b" x="575" y="1222">Умение готовить</text></g>
<g id="f4"><rect class="lg" x="542.500" y="1273.500" width="143" height="38.500"/><rect class="wb" x="545" y="1279.500" width="19.500" height="10.500"/><text class="w" x="555" y="1288">web</text><use href="#a" x="555" y="1298.500"/><path class="s" d="M565.500 1278V1309"/><text class="t i" x="590.500" y="1290.500">Терпимость к</text><text class="t i" x="572" y="1304">разным типам семей</text></g>
<g id="f5"><rect class="lg" x="542.500" y="1312" width="193.500" height="62.500"/><use href="#a" x="555" y="1325.500"/><use href="#l" x="556" y="1340.500"/><path class="s" d="M565.500 1316V1371"/><text class="t" x="572.500" y="1326">Уважение семейных ценностей</text>
<g id="f5a"><rect class="c" x="572" y="1331.500" width="137.500" height="18"/><use href="#a" x="581" y="1339.500"/><path class="s" d="M589.500 1333V1348"/><text class="m" x="595" y="1344.500">Интерес к своей родословной</text></g>
<g id="f5b"><rect class="c" x="572" y="1352" width="87.500" height="18"/><use href="#a" x="581" y="1360"/><path class="s" d="M589.500 1354V1369"/><text class="m" x="595" y="1364.500">Ценность семьи</text></g></g>
<g id="f6"><rect class="g3" x="540" y="1377.500" width="162.500" height="33.500"/><use href="#a" x="552.500" y="1391.500"/><path class="s" d="M563 1382V1407"/><text class="t" x="581" y="1392">Умение обращаться</text><text class="t" x="570" y="1406">с домашними животными</text></g>
<g id="f7"><rect class="g3" x="539.500" y="1414.500" width="141" height="45.500"/><use href="#a" x="551.500" y="1428"/><path class="s" d="M562.500 1419V1456"/><text class="t" x="569" y="1429">навыки обеспечения</text><text class="t" x="586.500" y="1442">безопасности</text><text class="t" x="572" y="1455">жизнедеятельности</text></g>

<g id="connectors"><path class="ln" d="M421 1343C450 1290 505 1195 579 1177"/><path class="ln" d="M580 1175C595 1172 612 1175 624 1182" marker-end="url(#h)"/><rect x="577.500" y="1172" width="5" height="6" style="fill:#fff;stroke:none"/><path d="M578.500 1175h3M580 1173.500v3" stroke="#666" stroke-width=".8"/></g>
</svg>
